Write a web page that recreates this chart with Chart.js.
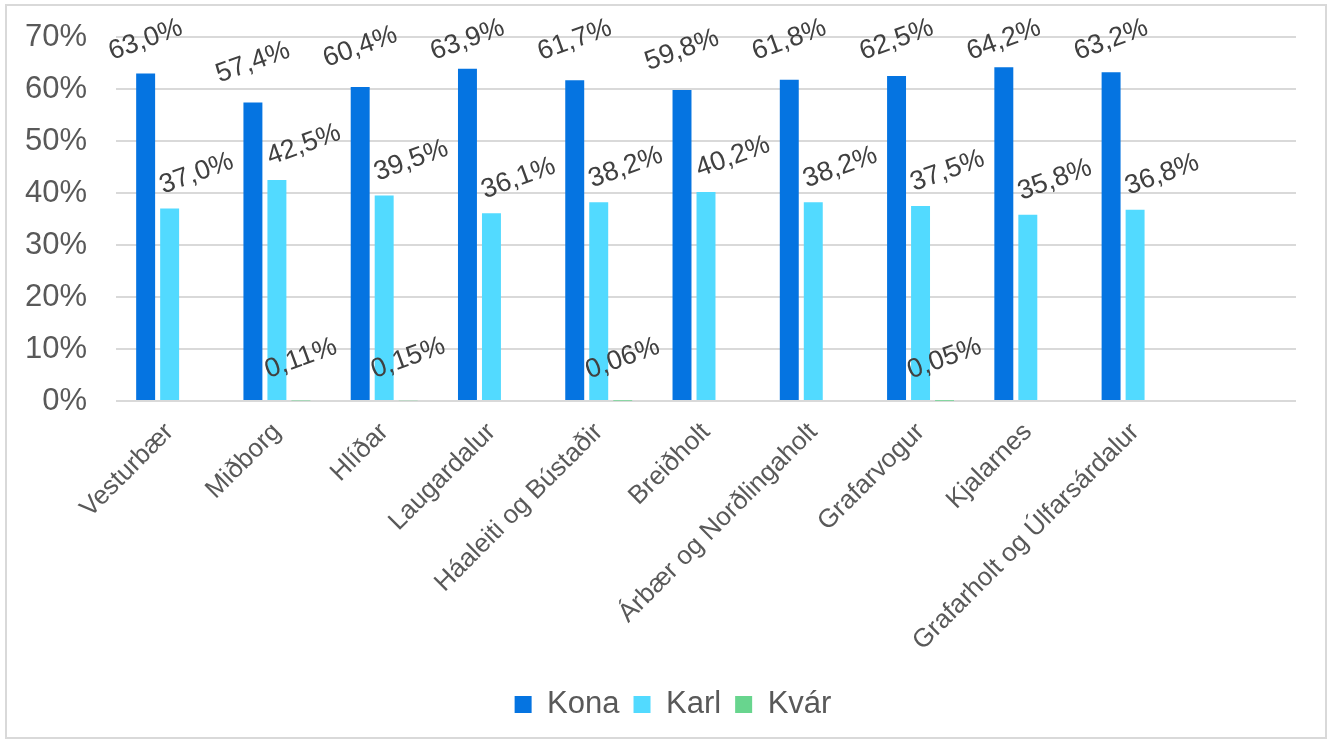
<!DOCTYPE html>
<html>
<head>
<meta charset="utf-8">
<script src="https://cdn.jsdelivr.net/npm/chart.js@4.4.1/dist/chart.umd.min.js"></script>
<style>
  html, body { margin: 0; padding: 0; background: #fff; }
  #wrap { position: relative; width: 1331px; height: 740px; }
  #frame { position: absolute; left: 5px; top: 4px; width: 1318px; height: 731px;
           border: 2px solid #d9d9d9; pointer-events: none; }
</style>
</head>
<body>
<div id="wrap">
  <canvas id="chart" width="1331" height="740"></canvas>
  <div id="frame"></div>
</div>
<script>
// hverfi (last slot is empty, as in the original)
const categories = ['Vesturbær', 'Miðborg', 'Hlíðar', 'Laugardalur', 'Háaleiti og Bústaðir',
    'Breiðholt', 'Árbær og Norðlingaholt', 'Grafarvogur', 'Kjalarnes', 'Grafarholt og Úlfarsárdalur', ''];
const seriesNames = ['Kona', 'Karl', 'Kvár'];
const kona = [63.0, 57.4, 60.4, 63.9, 61.7, 59.8, 61.8, 62.5, 64.2, 63.2, null];
const karl = [37.0, 42.5, 39.5, 36.1, 38.2, 40.2, 38.2, 37.5, 35.8, 36.8, null];
const kvar = [null, 0.11, 0.15, null, 0.06, null, null, 0.05, null, null, null];
const yTicks = [0, 10, 20, 30, 40, 50, 60, 70];

const fontFamily = '"Liberation Sans", Arial, sans-serif';

// rotated value labels above each bar
const barLabels = {
    id: 'barLabels',
    afterDatasetsDraw(chart, args, opts) {
        let ctx = chart.ctx;
        ctx.save();
        ctx.font = opts.size + 'px ' + fontFamily;
        ctx.fillStyle = opts.color;
        ctx.textAlign = 'center';
        ctx.textBaseline = 'middle';
        chart.data.datasets.forEach(function(ds, i) {
            let meta = chart.getDatasetMeta(i);
            meta.data.forEach(function(bar, j) {
                let v = ds.data[j];
                if (v === null || v === undefined) return;
                let x = bar.x + opts.shift[i];
                let y = Math.max(opts.minY, bar.y - opts.rise[i]);
                ctx.save();
                ctx.translate(x, y);
                ctx.rotate(opts.angle * Math.PI / 180);
                ctx.fillText(v.toFixed(opts.decimals[i]).replace('.', ',') + '%', 0, 0);
                ctx.restore();
            });
        });
        ctx.restore();
    }
};

// legend is centred a bit right of the canvas middle in the original
const legendShift = {
    id: 'legendShift',
    afterLayout(chart, args, opts) {
        chart.legend.left += opts.dx;
        chart.legend.right += opts.dx;
    }
};

let ctx = document.getElementById('chart').getContext('2d');
new Chart(ctx, {
    type: 'bar',
    data: {
        labels: categories,
        datasets: [
            { label: seriesNames[0], data: kona, backgroundColor: '#0574E1' },
            { label: seriesNames[1], data: karl, backgroundColor: '#52DAFF' },
            { label: seriesNames[2], data: kvar, backgroundColor: '#68D58E' }
        ]
    },
    options: {
        responsive: false,
        animation: false,
        datasets: {
            bar: { categoryPercentage: 0.671, barPercentage: 0.79 }
        },
        layout: { padding: { left: 0, right: 35, top: 37, bottom: 10 } },
        scales: {
            x: {
                grid: { display: false },
                border: { display: false },
                ticks: {
                    color: '#595959',
                    font: { family: fontFamily, size: 26 },
                    minRotation: 45,
                    maxRotation: 45,
                    autoSkip: false,
                    padding: 8
                },
                afterFit: function(scale) { scale.height = 274; }
            },
            y: {
                min: 0,
                max: 70,
                afterBuildTicks: function(scale) {
                    scale.ticks = yTicks.map(function(v) { return { value: v }; });
                },
                grid: { color: '#d9d9d9', lineWidth: 2, drawTicks: true, tickLength: 29, tickColor: 'rgba(0,0,0,0)' },
                border: { display: false },
                ticks: {
                    color: '#595959',
                    font: { family: fontFamily, size: 31 },
                    padding: 0,
                    callback: function(v) { return v + '%'; }
                },
                afterFit: function(scale) { scale.width = 116; }
            }
        },
        plugins: {
            legend: {
                position: 'bottom',
                labels: {
                    color: '#595959',
                    font: { family: fontFamily, size: 31 },
                    boxWidth: 17,
                    boxHeight: 17,
                    padding: 14
                }
            },
            legendShift: { dx: 25 },
            tooltip: { enabled: false },
            barLabels: {
                size: 27,
                color: '#404040',
                angle: -20,
                minY: 40,
                shift: [0, 27, 0],
                rise: [40, 35, 42],
                decimals: [1, 1, 2]
            }
        }
    },
    plugins: [barLabels, legendShift]
});
</script>
</body>
</html>
